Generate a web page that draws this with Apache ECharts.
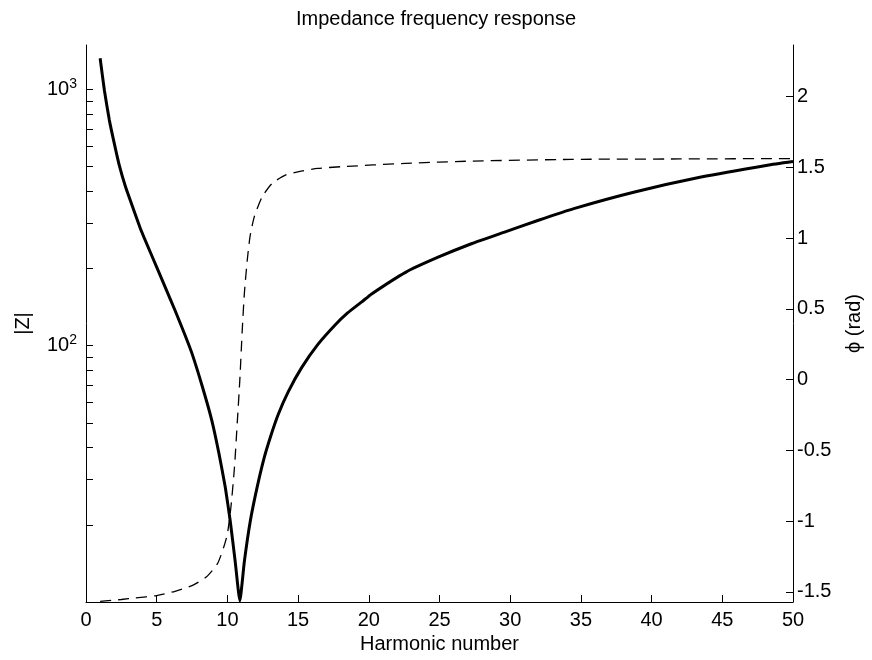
<!DOCTYPE html>
<html>
<head>
<meta charset="utf-8">
<script src="https://cdn.jsdelivr.net/npm/echarts@6/dist/echarts.min.js"></script>
<style>
  html, body { margin: 0; padding: 0; background: #fff; }
  #chart { width: 872px; height: 660px; }
</style>
</head>
<body>
<div id="chart"></div>
<script>
// |Z| (harmonic number, magnitude)
const zHarm = [1.0, 1.3, 1.65, 2.0, 2.35, 2.8, 3.3, 3.9, 4.7, 5.6, 6.3, 7.0, 7.5, 8.2, 8.9, 9.4, 9.85,
  10.2, 10.55, 10.88, 11.2, 11.62, 12.1, 12.6, 13.1, 13.6, 14.3, 15.25, 16.4, 17.6, 18.5, 19.5,
  20.2, 22.6, 24.9, 27.3, 29.6, 32.0, 34.5, 38.8, 43.5, 48.2, 50.0]
const zMag = [1320, 990, 757, 614, 505, 415, 347, 281, 221, 169, 137, 110, 93, 70, 51, 38, 28,
  20.7, 14.4, 10.1, 14.4, 20.7, 28, 36.5, 45, 54, 66, 82, 101, 120, 134, 148,
  159, 193, 221, 250, 277, 308, 342, 397, 454, 505, 522]

// phase (rad)
const phHarm = [1.0, 2.5, 3.5, 5.0, 6.3, 7.5, 8.5, 9.3, 9.75, 10.0, 10.25, 10.5, 10.7, 10.88, 11.05,
  11.2, 11.4, 11.6, 11.9, 12.45, 13.15, 14.1, 15.3, 16.4, 18.0, 22.6, 27.3, 34.3, 42.0, 50.0]
const phRad = [-1.566, -1.553, -1.542, -1.525, -1.495, -1.455, -1.395, -1.30, -1.18, -1.09, -0.90, -0.62, -0.30, 0.0, 0.35,
  0.61, 0.84, 1.01, 1.15, 1.29, 1.385, 1.445, 1.475, 1.492, 1.504, 1.528, 1.544, 1.556, 1.559, 1.562]

const zMinorTicks = [20, 30, 40, 50, 60, 70, 80, 90, 100, 200, 300, 400, 500, 600, 700, 800, 900, 1000]
const zLabels = [100, 1000]
const phTicks = [-1.5, -1, -0.5, 0, 0.5, 1, 1.5, 2]

const FONT = 'Liberation Sans, Arial, sans-serif'
const chart = echarts.init(document.getElementById('chart'), null, { renderer: 'canvas' })

chart.setOption({
  backgroundColor: '#ffffff',
  animation: false,
  title: {
    text: 'Impedance frequency response',
    left: 'center',
    top: 4,
    textStyle: { fontSize: 20, fontWeight: 'normal', color: '#000', fontFamily: FONT },
  },
  grid: { left: 86, right: 76, top: 45, bottom: 58 },
  xAxis: {
    type: 'value',
    min: 0,
    max: 50,
    interval: 5,
    name: 'Harmonic number',
    nameLocation: 'middle',
    nameGap: 27,
    nameTextStyle: { fontSize: 20, color: '#000', fontFamily: FONT },
    axisLine: { onZero: false, lineStyle: { color: '#000', width: 1 } },
    axisTick: { inside: true, length: 7, lineStyle: { color: '#000' } },
    axisLabel: { fontSize: 20, color: '#000', fontFamily: FONT, margin: 8 },
    splitLine: { show: false },
  },
  yAxis: [
    {
      type: 'log',
      logBase: 10,
      min: 10,
      max: 1486,
      name: '|Z|',
      nameLocation: 'middle',
      nameGap: 53,
      nameTextStyle: { fontSize: 20, color: '#000', fontFamily: FONT },
      axisLine: { show: true, lineStyle: { color: '#000', width: 1 } },
      axisTick: { inside: true, length: 7, customValues: zMinorTicks, lineStyle: { color: '#000' } },
      axisLabel: {
        customValues: zLabels,
        margin: 9,
        color: '#000',
        fontFamily: FONT,
        formatter: v => '10{sup|' + Math.round(Math.log10(v)) + '}',
        rich: {
          sup: { fontSize: 14, fontFamily: FONT, color: '#000', verticalAlign: 'top', padding: [0, 0, 10, 0] },
        },
        fontSize: 20,
      },
      splitLine: { show: false },
    },
    {
      type: 'value',
      position: 'right',
      min: -1.5708,
      max: 2.364,
      name: 'ϕ (rad)',
      nameLocation: 'middle',
      nameGap: 51,
      nameTextStyle: { fontSize: 20, color: '#000', fontFamily: FONT },
      axisLine: { show: true, lineStyle: { color: '#000', width: 1 } },
      axisTick: { inside: true, length: 7, customValues: phTicks, lineStyle: { color: '#000' } },
      axisLabel: { customValues: phTicks, fontSize: 20, color: '#000', fontFamily: FONT, margin: 4 },
      splitLine: { show: false },
    },
  ],
  series: [
    {
      type: 'line',
      yAxisIndex: 0,
      symbol: 'none',
      smooth: 0.15,
      clip: true,
      lineStyle: { color: '#000', width: 3 },
      data: zHarm.map((h, i) => [h, zMag[i]]),
    },
    {
      type: 'line',
      yAxisIndex: 1,
      symbol: 'none',
      smooth: 0.2,
      clip: true,
      lineStyle: { color: '#000', width: 1.3, type: [11, 7] },
      data: phHarm.map((h, i) => [h, phRad[i]]),
    },
  ],
})
</script>
</body>
</html>
